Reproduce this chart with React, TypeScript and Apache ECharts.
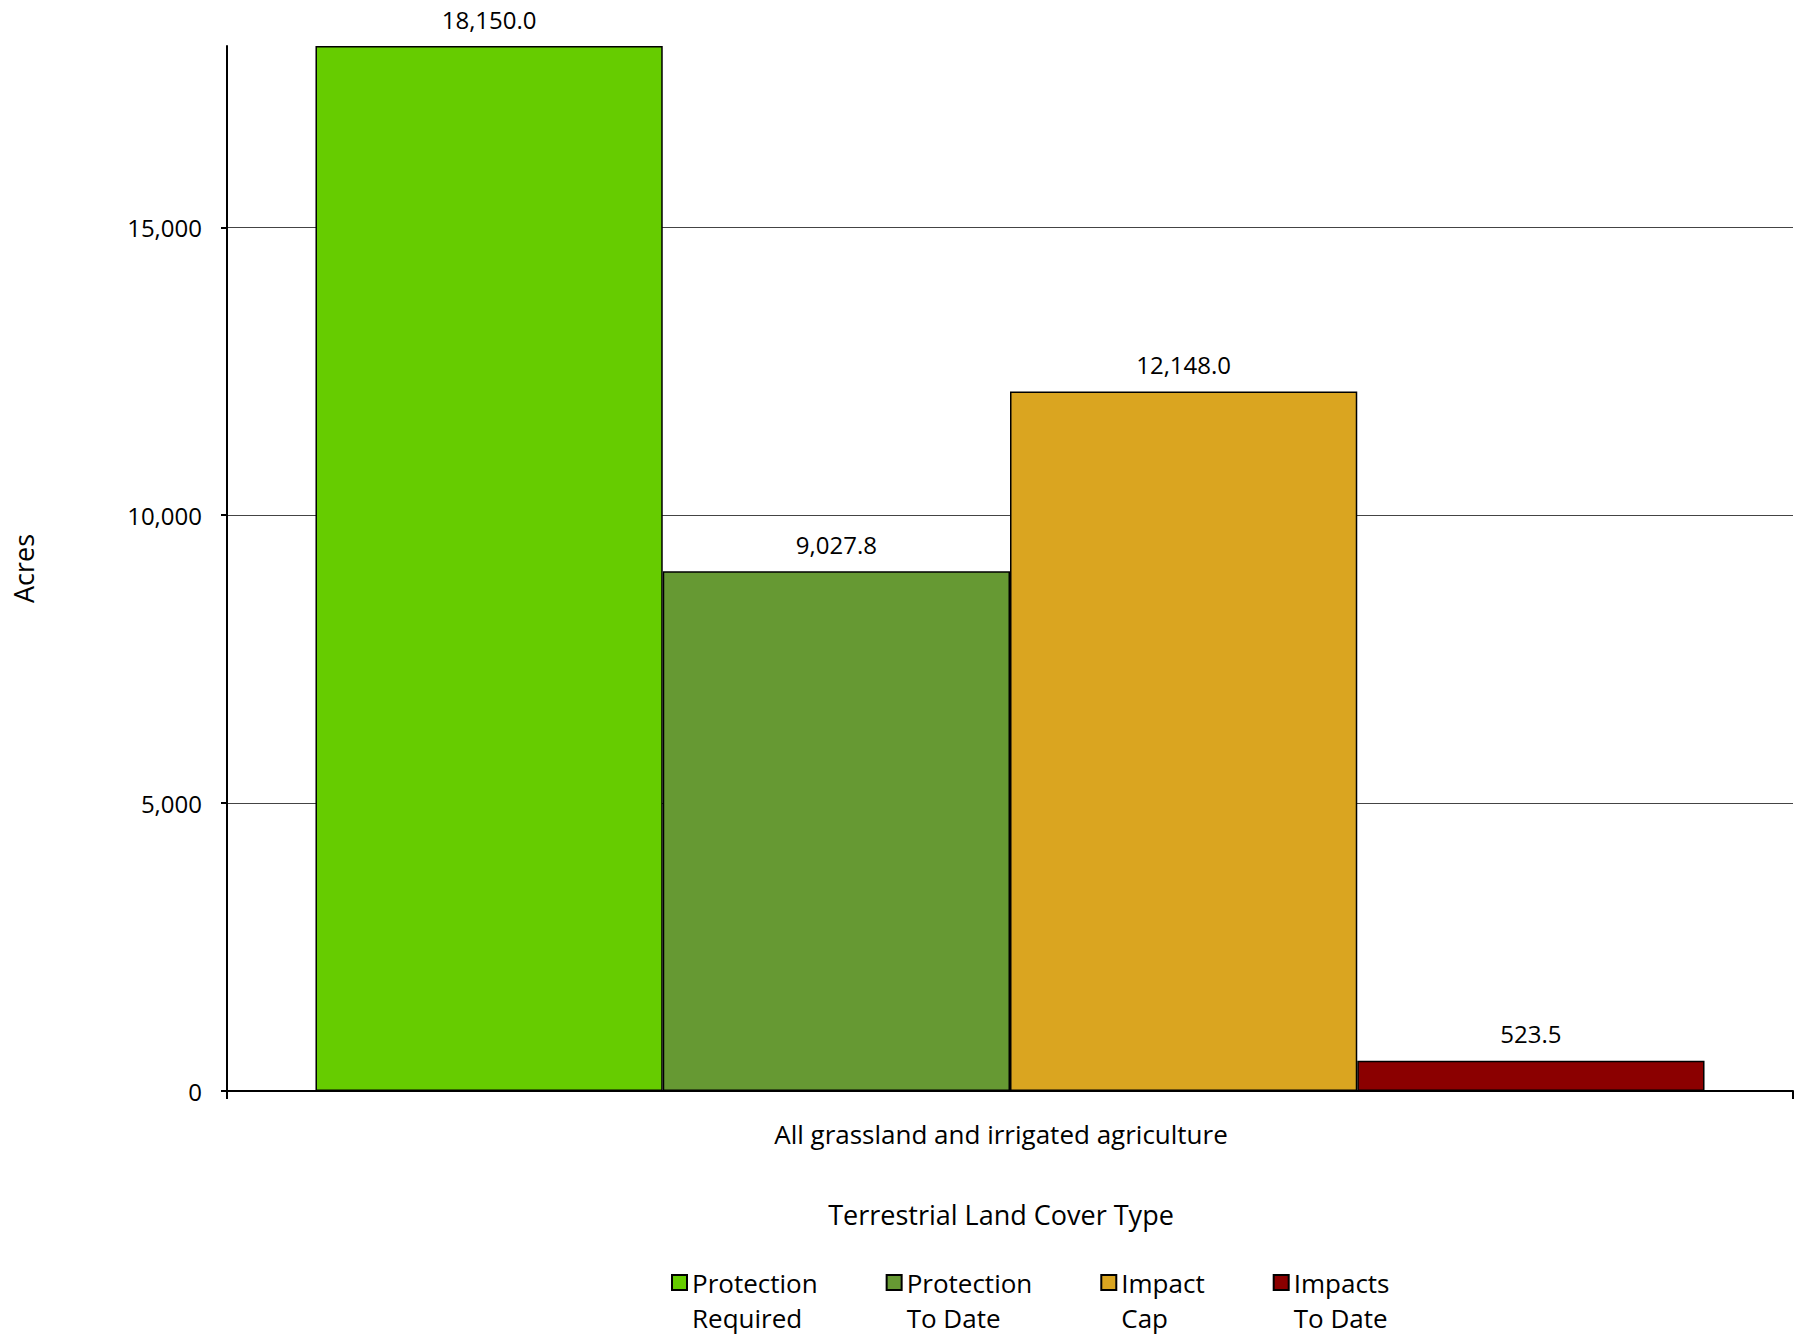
import React, { useEffect, useRef } from "react";
import * as echarts from "echarts";

// Land cover category and the four acreage series
const categories: string[] = ["All grassland and irrigated agriculture"];
const seriesNames: string[] = [
  "Protection\nRequired",
  "Protection\nTo Date",
  "Impact\nCap",
  "Impacts\nTo Date",
];
const seriesValues: number[] = [18150.0, 9027.8, 12148.0, 523.5];
const seriesColors: string[] = ["#66CC00", "#669933", "#DAA520", "#8B0000"];
const yTicks: number[] = [0, 5000, 10000, 15000];

const FONT = "'Open Sans', 'Noto Sans', sans-serif";

const fmtInt = (v: number) => v.toLocaleString("en-US");
const fmtOne = (v: number) =>
  v.toLocaleString("en-US", { minimumFractionDigits: 1, maximumFractionDigits: 1 });

export default function App() {
  const ref = useRef<HTMLDivElement>(null);

  useEffect(() => {
    if (!ref.current) return;
    const chart = echarts.init(ref.current, undefined, { renderer: "svg" });

    const series = seriesNames.map((name, i) => ({
      name,
      type: "bar",
      data: [seriesValues[i]],
      barGap: "0%",
      barCategoryGap: "11.3%",
      itemStyle: { color: seriesColors[i], borderColor: "#000", borderWidth: 1.5 },
      label: {
        show: true,
        position: "top",
        distance: 15,
        color: "#000",
        fontFamily: FONT,
        fontSize: 24,
        formatter: (p: any) => fmtOne(p.value),
      },
    }));

    chart.setOption({
      animation: false,
      backgroundColor: "#fff",
      textStyle: { fontFamily: FONT },
      grid: { left: 227, right: 8, top: 46, bottom: 244, containLabel: false },
      legend: {
        left: 666,
        top: 1225,
        orient: "horizontal",
        itemWidth: 15,
        itemHeight: 15,
        itemGap: 68,
        icon: "rect",
        selectedMode: false,
        // a blank leading line keeps the swatch level with the first text line
        formatter: (name: string) => "\u00A0\n" + name,
        textStyle: {
          fontFamily: FONT,
          fontSize: 26,
          color: "#000",
          lineHeight: 35,
        },
        data: seriesNames,
      },
      xAxis: {
        type: "category",
        data: categories,
        name: "Terrestrial Land Cover Type",
        nameLocation: "middle",
        nameGap: 110,
        nameTextStyle: { fontFamily: FONT, fontSize: 27, color: "#000", padding: [0, 18, 0, 0] },
        axisLine: { lineStyle: { color: "#000", width: 2 } },
        axisTick: { show: true, length: 8, lineStyle: { color: "#000", width: 2 } },
        axisLabel: {
          fontFamily: FONT,
          fontSize: 26,
          color: "#000",
          margin: 30,
          padding: [0, 18, 0, 0],
        },
      },
      yAxis: {
        type: "value",
        min: 0,
        max: 18150,
        interval: 5000,
        name: "Acres",
        nameLocation: "middle",
        nameRotate: 90,
        nameGap: 190,
        nameTextStyle: { fontFamily: FONT, fontSize: 27, color: "#000" },
        axisLine: { show: true, lineStyle: { color: "#000", width: 2 } },
        axisTick: {
          show: true,
          length: 6,
          customValues: yTicks,
          lineStyle: { color: "#000", width: 2 },
        },
        axisLabel: {
          fontFamily: FONT,
          fontSize: 24,
          color: "#000",
          margin: 25,
          customValues: yTicks,
          formatter: (v: number) => fmtInt(v),
        },
        splitLine: {
          show: true,
          lineStyle: {
            color: ["#444", "#444", "#444", "#444", "rgba(0,0,0,0)"],
            width: 1.2,
          },
        },
      },
      series,
    });

    return () => chart.dispose();
  }, []);

  return (
    <div
      ref={ref}
      style={{ position: "fixed", left: 0, top: 0, width: 1801, height: 1335, background: "#fff" }}
    />
  );
}
